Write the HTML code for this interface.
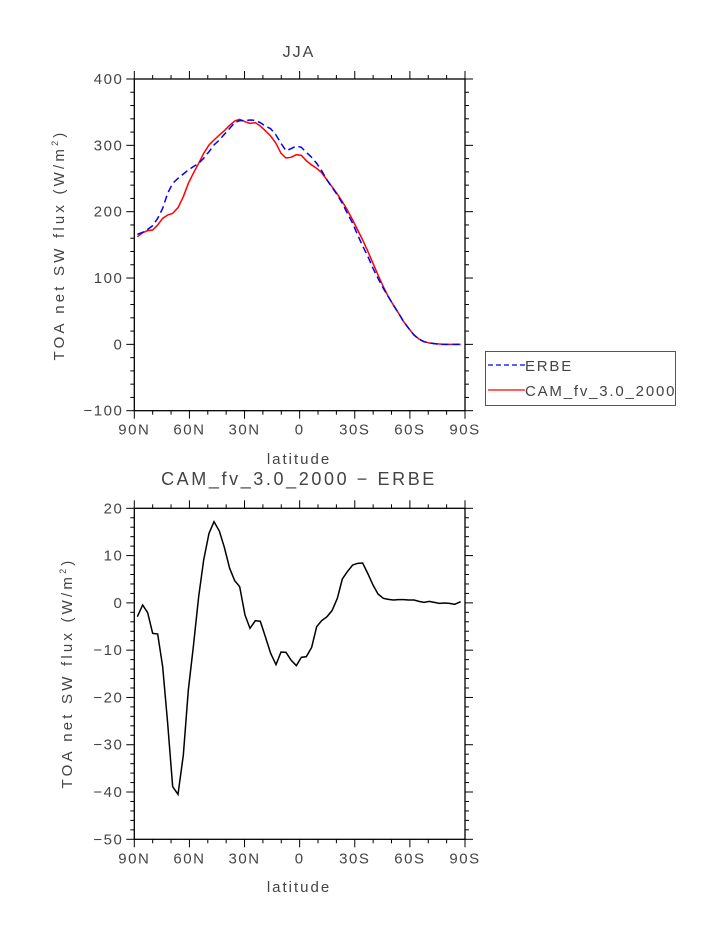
<!DOCTYPE html>
<html><head><meta charset="utf-8"><style>
html,body{margin:0;padding:0;background:#fff;}
svg{display:block;font-family:"Liberation Sans",sans-serif;}
</style></head><body>
<svg id="s" width="723" height="935" xmlns="http://www.w3.org/2000/svg">
<rect width="723" height="935" fill="#fff"/>
<text x="299" y="57" font-size="16" fill="#444" text-anchor="middle" letter-spacing="2">JJA</text>
<text x="299" y="485" font-size="18" fill="#444" text-anchor="middle" letter-spacing="2.6">CAM_fv_3.0_2000 − ERBE</text>
<text x="299" y="464" font-size="15" fill="#444" text-anchor="middle" letter-spacing="2">latitude</text>
<text x="299" y="892" font-size="15" fill="#444" text-anchor="middle" letter-spacing="2">latitude</text>
<text transform="translate(64,245) rotate(-90)" font-size="15" fill="#444" text-anchor="middle" letter-spacing="3.2">TOA net SW flux (W/m<tspan font-size="9" dy="-6">2</tspan><tspan dy="6">)</tspan></text>
<text transform="translate(72,673) rotate(-90)" font-size="15" fill="#444" text-anchor="middle" letter-spacing="3.2">TOA net SW flux (W/m<tspan font-size="9" dy="-6">2</tspan><tspan dy="6">)</tspan></text>
<g id="ax"></g>
<g transform="translate(40,40) scale(0.3333333)" fill="none">
<polyline vector-effect="non-scaling-stroke" stroke="#ff0000" stroke-width="1.5" points="292,590 308,578 323,572 338,570 353,555 368,535 383,525 398,520 414,503 430,470 445,430 460,400 476,370 491,340 507,315 522,300 538,285 553,272 569,256 584,243 599,238 615,245 630,250 646,248 661,258 676,272 692,288 708,310 723,340 738,354 753,352 769,344 784,346 799,362 815,375 830,385 845,398 861,420 876,440 892,462 907,485 922,510 938,540 953,570 968,600 984,635 999,670 1014,705 1030,740 1045,770 1060,795 1076,820 1091,845 1106,865 1122,885 1137,897 1152,905 1168,909 1183,911 1198,912 1214,913 1229,913 1262,913"/>
<polyline vector-effect="non-scaling-stroke" stroke="#0000ff" stroke-width="1.5" stroke-dasharray="7,4" points="292,583 308,577 323,568 338,557 353,535 368,505 383,460 398,430 414,415 430,402 445,390 460,380 476,370 491,355 507,335 522,315 538,300 553,283 569,265 584,248 599,242 615,242 630,240 646,241 661,248 676,258 692,266 708,285 723,310 738,332 753,326 769,318 784,322 799,337 815,352 830,370 845,392 861,420 876,442 892,465 907,490 922,520 938,550 953,585 968,618 984,650 999,685 1014,715 1030,745 1045,770 1060,795 1076,820 1091,845 1106,865 1122,885 1137,898 1152,905 1168,909 1183,911 1198,913 1262,913"/>
</g>
<g transform="translate(40,460) scale(0.3333333)" fill="none">
<polyline vector-effect="non-scaling-stroke" stroke="#000" stroke-width="1.5" points="292,470 308,435 323,458 338,520 353,522 368,620 383,790 398,980 414,1003 430,885 445,690 460,560 476,410 491,300 507,220 522,185 538,213 553,262 569,325 584,362 599,380 615,465 630,505 646,482 661,484 676,530 692,580 708,614 723,576 738,577 753,600 769,617 784,592 799,590 815,562 830,500 845,482 861,470 876,452 892,415 907,357 922,335 938,315 953,310 968,309 984,342 999,375 1014,402 1030,415 1045,418 1060,420 1076,419 1091,419 1106,420 1122,420 1137,424 1152,427 1168,424 1183,427 1198,430 1214,429 1229,430 1244,433 1262,425"/>
</g>
<rect x="485.5" y="351.5" width="190" height="54" fill="none" stroke="#555" stroke-width="1"/>
<line x1="488" y1="365" x2="525" y2="365" stroke="#0000ff" stroke-width="1.3" stroke-dasharray="5,3"/>
<line x1="488" y1="390" x2="525" y2="390" stroke="#ff0000" stroke-width="1.3"/>
<text x="525" y="371" font-size="15" fill="#444" letter-spacing="1.8">ERBE</text>
<text x="525" y="396" font-size="15" fill="#444" letter-spacing="1.8">CAM_fv_3.0_2000</text>
</svg>
<script>
var g=document.getElementById('ax'),NS='http://www.w3.org/2000/svg';
function el(t,a,txt){var e=document.createElementNS(NS,t);for(var k in a)e.setAttribute(k,a[k]);if(txt)e.textContent=txt;g.appendChild(e);}
function ln(x1,y1,x2,y2){el('line',{x1:x1,y1:y1,x2:x2,y2:y2,stroke:'#000','stroke-width':1});}
function panel(L,R,T,B,ymin,ymax,ymaj,ymin2){
 el('rect',{x:L,y:T,width:R-L,height:B-T,fill:'none',stroke:'#000','stroke-width':1.3});
 var xl=['90N','60N','30N','0','30S','60S','90S'];
 for(var d=0;d<=180;d+=10){var x=L+(R-L)*d/180;var maj=d%30==0;var s=maj?8:4;
  ln(x,B,x,B+s);ln(x,T,x,T-s);
  if(maj)el('text',{x:x,y:B+24,'font-size':15,fill:'#444','text-anchor':'middle','letter-spacing':1.5},xl[d/30]);}
 for(var v=ymin;v<=ymax+1e-9;v+=ymin2){var y=B-(B-T)*(v-ymin)/(ymax-ymin);var maj=Math.abs(v/ymaj-Math.round(v/ymaj))<1e-6;var s=maj?8:4;
  ln(L,y,L-s,y);ln(R,y,R+s,y);
  if(maj)el('text',{x:L-11,y:y+5,'font-size':15,fill:'#444','text-anchor':'end','letter-spacing':1.5},(v<0?'−':'')+Math.abs(Math.round(v)));}
}
panel(134.3,465,79,410.7,-100,400,100,20);
panel(134.3,465,508.3,839.3,-50,20,10,2);
</script>
</body></html>
